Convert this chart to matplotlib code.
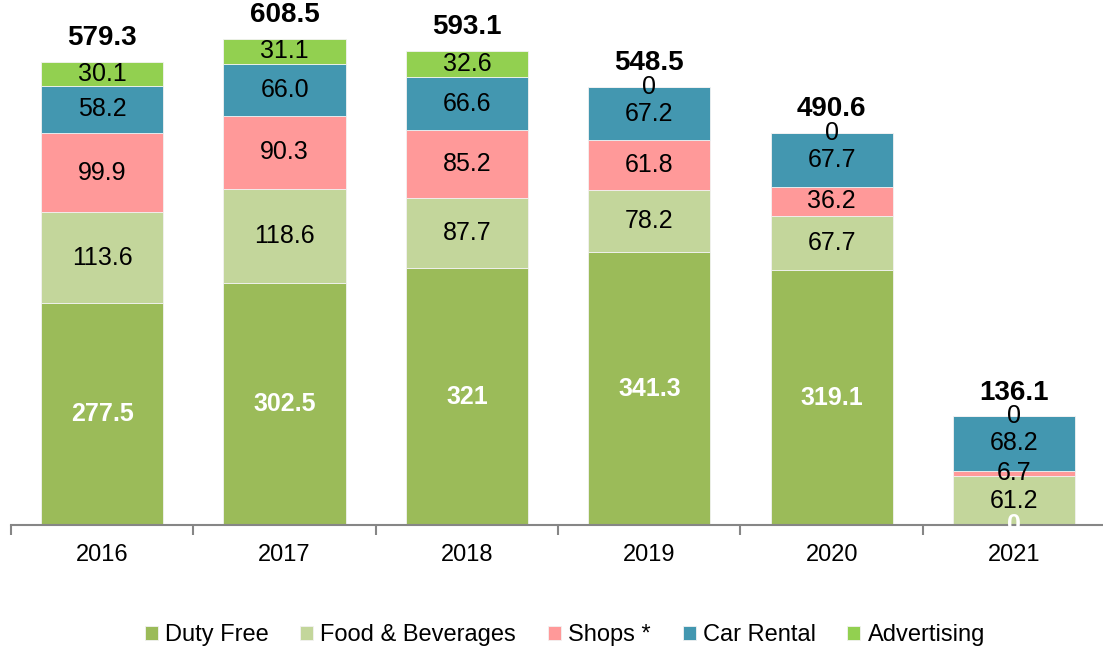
import matplotlib.pyplot as plt
from matplotlib.ticker import FixedLocator, NullLocator

plt.rcParams['font.family'] = ['Liberation Sans', 'DejaVu Sans']

years = ['2016', '2017', '2018', '2019', '2020', '2021']
duty_free = [277.5, 302.5, 321, 341.3, 319.1, 0]
food = [113.6, 118.6, 87.7, 78.2, 67.7, 61.2]
shops = [99.9, 90.3, 85.2, 61.8, 36.2, 6.7]
car_rental = [58.2, 66.0, 66.6, 67.2, 67.7, 68.2]
advertising = [30.1, 31.1, 32.6, 0, 0, 0]
totals = [579.3, 608.5, 593.1, 548.5, 490.6, 136.1]

series = [
    ('Duty Free', duty_free, '#9BBB59'),
    ('Food & Beverages', food, '#C3D69B'),
    ('Shops *', shops, '#FF9999'),
    ('Car Rental', car_rental, '#4397B0'),
    ('Advertising', advertising, '#92D050'),
]


def fmt(v):
    return str(v) if isinstance(v, int) else f"{v:.1f}"


fig = plt.figure(figsize=(11.03, 6.5), dpi=100)
ax = fig.add_axes([0.01, 0.1923, 0.992, 0.8077])

x = list(range(len(years)))
bottom = [0] * len(years)
for i, (name, vals, color) in enumerate(series):
    ax.bar(x, vals, width=0.67, bottom=bottom, color=color, label=name,
           edgecolor='#F2F2F2', linewidth=0.6)
    for j, v in enumerate(vals):
        yc = bottom[j] + v / 2
        if i == 0:
            ax.text(x[j], yc, fmt(v), ha='center', va='center', fontsize=18,
                    color='white', fontweight='bold', clip_on=False)
        else:
            ax.text(x[j], yc, fmt(v), ha='center', va='center', fontsize=18,
                    color='black', clip_on=False)
    bottom = [b + v for b, v in zip(bottom, vals)]

for j, t in enumerate(totals):
    ax.annotate(fmt(t), (x[j], bottom[j]), xytext=(0, 17), textcoords='offset points',
                ha='center', va='center', fontsize=20, fontweight='bold')

ax.set_xlim(-0.5, 5.5)
ax.set_ylim(0, 657)
ax.set_yticks([])
for s in ['top', 'right', 'left']:
    ax.spines[s].set_visible(False)
ax.spines['bottom'].set_color('#868686')
ax.spines['bottom'].set_linewidth(1.5)
ax.set_zorder(1)

ax.set_xticks(x)
ax.set_xticklabels(years, fontsize=17)
ax.tick_params(axis='x', which='major', length=0, pad=14)
ax.xaxis.set_minor_locator(FixedLocator([k - 0.5 for k in range(len(years) + 1)]))
ax.tick_params(axis='x', which='minor', length=7, width=1.5, color='#868686')
ax.yaxis.set_major_locator(NullLocator())

fig.legend(loc='center', bbox_to_anchor=(0.512, 0.023), ncol=5, frameon=False,
           fontsize=17, handlelength=0.55, handleheight=0.55, handletextpad=0.3,
           columnspacing=1.35)

fig.savefig('out.png', dpi=100)
